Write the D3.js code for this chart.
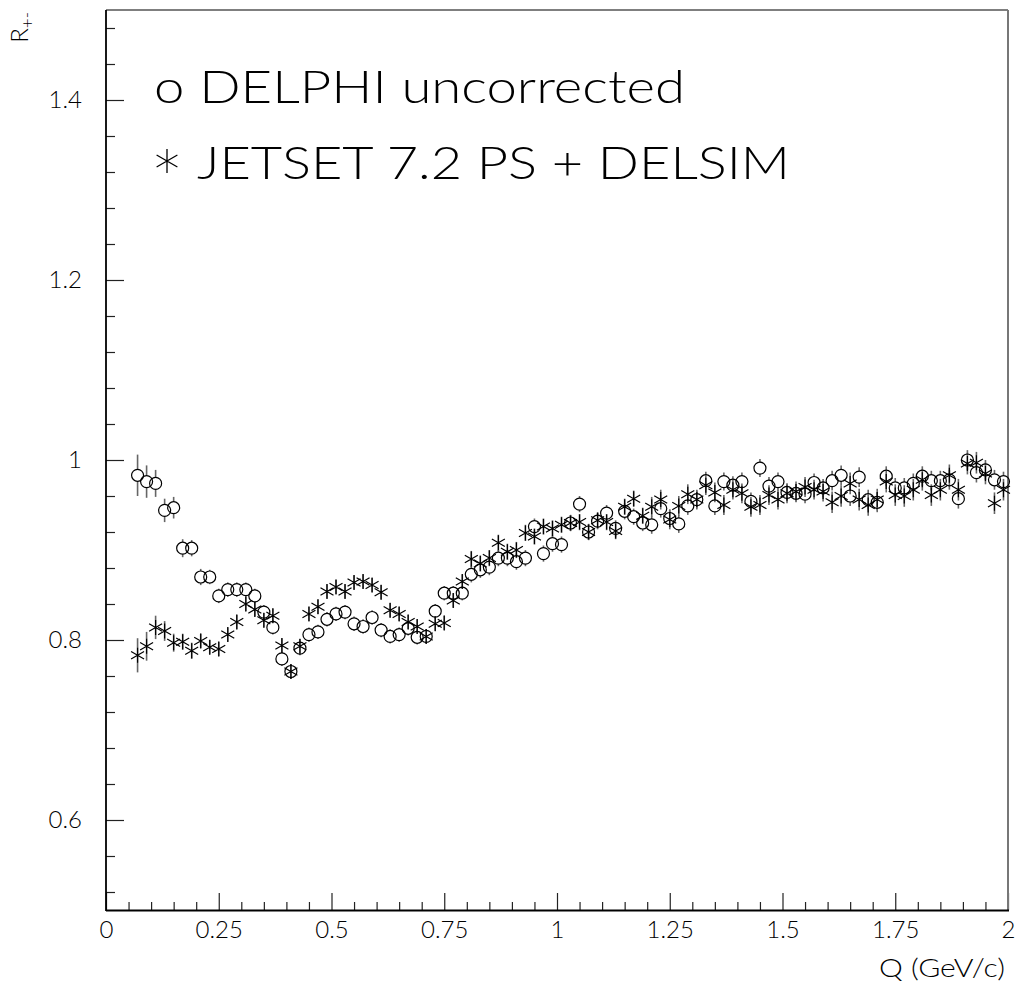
<!DOCTYPE html>
<html>
<head>
<meta charset="utf-8">
<script src="https://cdn.jsdelivr.net/npm/d3@7"></script>
<style>
  body { margin: 0; background: #fff; }
  svg { display: block; }
  text { font-family: "Lato", "Liberation Sans", sans-serif; font-weight: 300; fill: #000; }
</style>
</head>
<body>
<div id="container"></div>
<script>
// Q bin centres (GeV/c)
var qValues = [0.07, 0.09, 0.11, 0.13, 0.15, 0.17, 0.19, 0.21, 0.23, 0.25, 0.27, 0.29, 0.31, 0.33, 0.35, 0.37, 0.39,
    0.41, 0.43, 0.45, 0.47, 0.49, 0.51, 0.53, 0.55, 0.57, 0.59, 0.61, 0.63, 0.65, 0.67, 0.69, 0.71, 0.73, 0.75, 0.77, 0.79,
    0.81, 0.83, 0.85, 0.87, 0.89, 0.91, 0.93, 0.95, 0.97, 0.99, 1.01, 1.03, 1.05, 1.07, 1.09, 1.11, 1.13, 1.15, 1.17, 1.19,
    1.21, 1.23, 1.25, 1.27, 1.29, 1.31, 1.33, 1.35, 1.37, 1.39, 1.41, 1.43, 1.45, 1.47, 1.49, 1.51, 1.53, 1.55, 1.57, 1.59,
    1.61, 1.63, 1.65, 1.67, 1.69, 1.71, 1.73, 1.75, 1.77, 1.79, 1.81, 1.83, 1.85, 1.87, 1.89, 1.91, 1.93, 1.95, 1.97, 1.99];

// DELPHI uncorrected (open circles)
var delphiValues = [0.983, 0.976, 0.974, 0.944, 0.947, 0.902, 0.902, 0.870, 0.870, 0.849, 0.856, 0.856, 0.856, 0.849, 0.831, 0.814, 0.779,
    0.765, 0.791, 0.806, 0.809, 0.823, 0.829, 0.831, 0.818, 0.815, 0.825, 0.811, 0.804, 0.806, 0.813, 0.803, 0.804, 0.832, 0.852, 0.852, 0.852,
    0.873, 0.878, 0.881, 0.891, 0.891, 0.887, 0.891, 0.926, 0.896, 0.907, 0.906, 0.930, 0.951, 0.920, 0.932, 0.941, 0.924, 0.943, 0.937, 0.930,
    0.928, 0.946, 0.935, 0.929, 0.949, 0.956, 0.977, 0.949, 0.976, 0.972, 0.976, 0.954, 0.991, 0.971, 0.976, 0.964, 0.963, 0.962, 0.975, 0.969,
    0.977, 0.983, 0.960, 0.981, 0.956, 0.953, 0.982, 0.969, 0.969, 0.974, 0.982, 0.977, 0.977, 0.978, 0.957, 1.000, 0.986, 0.989, 0.978, 0.976];
var delphiErrors = [0.023, 0.018, 0.015, 0.013, 0.012, 0.010, 0.009, 0.009, 0.008, 0.008, 0.008, 0.008, 0.008, 0.008, 0.008, 0.008, 0.008,
    0.008, 0.008, 0.008, 0.008, 0.008, 0.008, 0.008, 0.008, 0.008, 0.008, 0.008, 0.008, 0.008, 0.008, 0.008, 0.008, 0.008, 0.008, 0.008, 0.008,
    0.009, 0.009, 0.009, 0.009, 0.009, 0.009, 0.009, 0.009, 0.009, 0.009, 0.009, 0.009, 0.009, 0.009, 0.009, 0.009, 0.009, 0.009, 0.009, 0.009,
    0.010, 0.010, 0.010, 0.010, 0.010, 0.010, 0.010, 0.010, 0.010, 0.010, 0.010, 0.010, 0.010, 0.010, 0.010, 0.010, 0.010, 0.010, 0.010, 0.010,
    0.011, 0.011, 0.011, 0.011, 0.011, 0.011, 0.011, 0.011, 0.011, 0.011, 0.011, 0.011, 0.011, 0.011, 0.011, 0.011, 0.011, 0.011, 0.011, 0.011];

// JETSET 7.2 PS + DELSIM (stars)
var jetsetValues = [0.783, 0.793, 0.814, 0.810, 0.797, 0.798, 0.788, 0.799, 0.792, 0.790, 0.806, 0.820, 0.840, 0.834, 0.822, 0.827, 0.794,
    0.765, 0.793, 0.829, 0.837, 0.854, 0.859, 0.854, 0.864, 0.865, 0.861, 0.853, 0.833, 0.829, 0.820, 0.815, 0.804, 0.818, 0.819, 0.844, 0.865,
    0.890, 0.885, 0.891, 0.908, 0.898, 0.900, 0.919, 0.915, 0.926, 0.924, 0.928, 0.930, 0.931, 0.920, 0.933, 0.931, 0.921, 0.948, 0.957, 0.938,
    0.948, 0.956, 0.934, 0.949, 0.962, 0.956, 0.972, 0.964, 0.950, 0.967, 0.963, 0.948, 0.950, 0.961, 0.956, 0.963, 0.965, 0.970, 0.967, 0.965,
    0.953, 0.960, 0.974, 0.956, 0.950, 0.956, 0.976, 0.961, 0.960, 0.967, 0.978, 0.961, 0.967, 0.983, 0.967, 0.996, 0.997, 0.985, 0.952, 0.967];
var jetsetErrors = [0.019, 0.016, 0.013, 0.011, 0.010, 0.009, 0.009, 0.008, 0.008, 0.008, 0.008, 0.008, 0.008, 0.008, 0.008, 0.008, 0.008,
    0.008, 0.008, 0.008, 0.008, 0.008, 0.008, 0.008, 0.008, 0.008, 0.008, 0.008, 0.008, 0.008, 0.008, 0.008, 0.008, 0.008, 0.008, 0.008, 0.008,
    0.009, 0.009, 0.009, 0.009, 0.009, 0.009, 0.009, 0.009, 0.009, 0.009, 0.009, 0.009, 0.009, 0.009, 0.009, 0.009, 0.009, 0.009, 0.009, 0.009,
    0.011, 0.011, 0.011, 0.011, 0.011, 0.011, 0.011, 0.011, 0.011, 0.011, 0.011, 0.011, 0.011, 0.011, 0.011, 0.011, 0.011, 0.011, 0.011, 0.011,
    0.012, 0.012, 0.012, 0.012, 0.012, 0.012, 0.012, 0.012, 0.012, 0.012, 0.012, 0.012, 0.012, 0.012, 0.012, 0.012, 0.012, 0.012, 0.012, 0.012];

var xTicks = [0, 0.25, 0.5, 0.75, 1, 1.25, 1.5, 1.75, 2];
var xTickLabels = ["0", "0.25", "0.5", "0.75", "1", "1.25", "1.5", "1.75", "2"];
var yTicks = [0.6, 0.8, 1.0, 1.2, 1.4];
var yTickLabels = ["0.6", "0.8", "1", "1.2", "1.4"];
var legendLabels = ["o DELPHI uncorrected", "JETSET 7.2 PS + DELSIM"];

var width = 1018, height = 986;
var frame = {left: 106, right: 1008, top: 10, bottom: 910};

var svg = d3.select("#container").append("svg")
    .attr("width", width).attr("height", height);

var x = d3.scaleLinear().domain([0, 2]).range([frame.left, frame.right]);
var y = d3.scaleLinear().domain([0.5, 1.5]).range([frame.bottom, frame.top]);

// minor ticks
var xMinor = d3.range(0.05, 2, 0.05).filter(function (v) { return Math.abs(v / 0.25 - Math.round(v / 0.25)) > 1e-6; });
var yMinor = d3.range(0.52, 1.5, 0.04).filter(function (v) { return Math.abs(v / 0.2 - Math.round(v / 0.2)) > 1e-6; });

svg.append("g").attr("transform", "translate(0," + frame.bottom + ")")
    .call(d3.axisBottom(x).tickValues(xMinor).tickSize(-8).tickFormat(""))
    .call(function (g) { g.select(".domain").remove(); });
svg.append("g").attr("class", "x-major").attr("transform", "translate(0," + frame.bottom + ")")
    .call(d3.axisBottom(x).tickValues(xTicks).tickSize(-17).tickPadding(11)
        .tickFormat(function (d, i) { return xTickLabels[i]; }))
    .call(function (g) { g.select(".domain").remove(); });

svg.append("g").attr("transform", "translate(" + frame.left + ",0)")
    .call(d3.axisLeft(y).tickValues(yMinor).tickSize(-9).tickFormat(""))
    .call(function (g) { g.select(".domain").remove(); });
svg.append("g").attr("class", "y-major").attr("transform", "translate(" + frame.left + ",0)")
    .call(d3.axisLeft(y).tickValues(yTicks).tickSize(-18).tickPadding(24)
        .tickFormat(function (d, i) { return yTickLabels[i]; }))
    .call(function (g) { g.select(".domain").remove(); });

svg.selectAll(".tick line").attr("stroke", "#222").attr("stroke-width", 1.2);
svg.selectAll(".tick text")
    .attr("font-family", "Lato, 'Liberation Sans', sans-serif")
    .attr("font-weight", 300)
    .attr("font-size", 24).attr("fill", "#000");

// frame
svg.append("line").attr("x1", frame.left).attr("x2", frame.right).attr("y1", frame.top).attr("y2", frame.top)
    .attr("stroke", "#000").attr("stroke-width", 1.2);
svg.append("line").attr("x1", frame.right).attr("x2", frame.right).attr("y1", frame.top).attr("y2", frame.bottom)
    .attr("stroke", "#777").attr("stroke-width", 2);
svg.append("line").attr("x1", frame.left).attr("x2", frame.left).attr("y1", frame.top).attr("y2", frame.bottom + 1)
    .attr("stroke", "#000").attr("stroke-width", 1.8);
svg.append("line").attr("x1", frame.left).attr("x2", frame.right + 1).attr("y1", frame.bottom + 0.5).attr("y2", frame.bottom + 0.5)
    .attr("stroke", "#000").attr("stroke-width", 1.8);

// axis titles
svg.append("text").attr("x", 1005).attr("y", 977).attr("text-anchor", "end")
    .attr("font-size", 25).attr("textLength", 126).attr("lengthAdjust", "spacingAndGlyphs").text("Q (GeV/c)");
var yTitle = svg.append("text").attr("transform", "translate(28,12) rotate(-90)")
    .attr("text-anchor", "end").attr("font-size", 24);
yTitle.append("tspan").text("R");
yTitle.append("tspan").attr("font-size", 17).attr("dy", 5).text("+-");

// data
var delphi = qValues.map(function (q, i) { return {q: q, v: delphiValues[i], e: delphiErrors[i]}; });
var jetset = qValues.map(function (q, i) { return {q: q, v: jetsetValues[i], e: jetsetErrors[i]}; });

var markerR = 6, starR = 7.5;
function errorBars(data, gap) {
    var g = svg.append("g").attr("stroke", "#666").attr("stroke-width", 1.6);
    data.forEach(function (d) {
        var cx = x(d.q), cy = y(d.v), top = y(d.v + d.e), bot = y(d.v - d.e);
        if (cy - top > gap) g.append("line").attr("x1", cx).attr("x2", cx).attr("y1", top).attr("y2", cy - gap);
        if (bot - cy > gap) g.append("line").attr("x1", cx).attr("x2", cx).attr("y1", cy + gap).attr("y2", bot);
    });
}
errorBars(jetset, 0);
errorBars(delphi, markerR);

function starPath(r) {
    return d3.range(3).map(function (k) {
        var a = Math.PI / 2 + k * Math.PI / 3;
        var dx = r * Math.cos(a), dy = r * Math.sin(a);
        return "M" + (-dx).toFixed(2) + "," + (-dy).toFixed(2) + "L" + dx.toFixed(2) + "," + dy.toFixed(2);
    }).join("");
}

svg.append("g").selectAll("path").data(jetset).enter().append("path")
    .attr("transform", function (d) { return "translate(" + x(d.q) + "," + y(d.v) + ")"; })
    .attr("d", starPath(starR)).attr("stroke", "#000").attr("stroke-width", 1.2).attr("fill", "none");

svg.append("g").selectAll("circle").data(delphi).enter().append("circle")
    .attr("cx", function (d) { return x(d.q); })
    .attr("cy", function (d) { return y(d.v); })
    .attr("r", markerR).attr("fill", "none").attr("stroke", "#000").attr("stroke-width", 1.2);

// legend
svg.append("text").attr("class", "legend").attr("x", 154).attr("y", 103)
    .attr("font-size", 45).attr("textLength", 531).attr("lengthAdjust", "spacingAndGlyphs")
    .text(legendLabels[0]);
svg.append("path").attr("transform", "translate(167,161)")
    .attr("d", starPath(12)).attr("stroke", "#000").attr("stroke-width", 1.3).attr("fill", "none");
svg.append("text").attr("class", "legend").attr("x", 197).attr("y", 179)
    .attr("font-size", 45).attr("textLength", 593).attr("lengthAdjust", "spacingAndGlyphs")
    .text(legendLabels[1]);
</script>
</body>
</html>
